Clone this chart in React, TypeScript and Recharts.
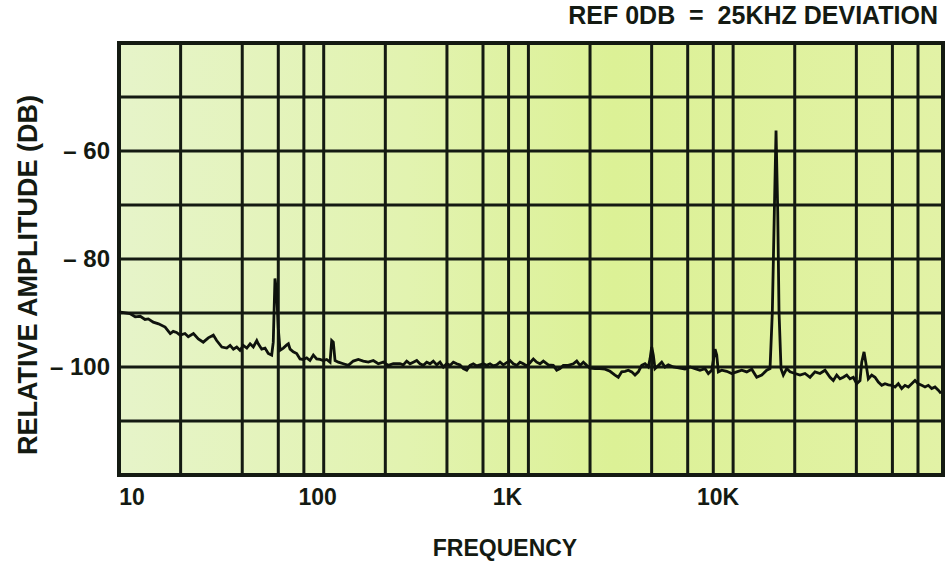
import { LineChart, Line, XAxis, YAxis, ReferenceLine, ReferenceArea, Label } from 'recharts';

const FONT = '"Liberation Sans", Arial, Helvetica, sans-serif';
const INK = '#141a12';

// frequency (Hz) of each trace point
const FREQ_HZ = [
  10, 11.3, 12.0, 12.7, 13.4, 13.9, 14.7, 15.6, 16.8, 17.8, 18.4, 19.1, 19.9, 21.0, 21.8, 23.1,
  24.4, 25.8, 27.3, 28.9, 30.0, 31.8, 33.6, 34.9, 36.2, 37.6, 39.0, 40.5, 42.1, 43.7, 45.3, 47.1,
  47.9, 49.8, 51.7, 53.6, 55.7, 56.7, 57.8, 58.9, 60.0, 61.2, 63.5, 66.0, 67.2, 68.5, 71.0, 73.8,
  76.6, 79.5, 82.6, 85.7, 89.0, 92.4, 95.9, 99.5, 103.4, 107.4, 109.4, 111.4, 113.6, 117.9, 124.7,
  131.9, 139.5, 147.6, 156.1, 165.2, 174.7, 184.8, 195.5, 206.8, 218.8,
  235.9, 244.8, 254.3, 264.0, 274.0, 284.7, 295.4, 306.7, 318.6, 330.6, 343.1, 356.5, 370.0, 384.0,
  398.9, 414.0, 429.7, 446.5, 463.4, 480.9, 499.6, 518.5, 538.1, 559.1, 580.3, 602.2, 625.7, 649.4,
  673.9, 700.2, 726.6, 754.1, 783.4, 813.0, 843.8, 876.7, 910.0, 944.4, 981.1, 1018, 1057, 1098,
  1139, 1183, 1251, 1323, 1375, 1427, 1481, 1566, 1657, 1722, 1787, 1855, 1927, 2000, 2116, 2238,
  2367, 2504, 2649, 2749, 2856, 2964, 3076, 3197, 3317, 3443, 3576, 3712, 3853, 3927, 4003, 4076,
  4155, 4312, 4479, 4649, 4825, 5105,
  5504, 5821, 6159, 6515, 6890, 7289, 7568, 7862, 8005, 8160, 8317, 8468, 8798, 9307, 9845, 10414,
  11016, 11655, 12328, 13041, 13795, 14594, 15148, 15545, 15899, 16205, 16518, 16759, 17140, 17588,
  18273, 18967, 20063, 21222, 22448, 23752,
  25123, 26574, 28119, 29744, 30866, 32069, 33280, 34540, 35891, 37250, 38658, 40166, 41680, 42491,
  43604, 44446, 45765, 47547, 49342, 51205, 53204, 55211, 57307, 59541, 61789, 64120, 66616, 69146,
  71758, 74553, 77367, 80289, 83421, 86571, 89844, 93344, 96871, 100554, 103680,
];

// relative amplitude (dB) at each frequency above
const AMPLITUDE_DB = [
  -89.8, -90.1, -90.7, -90.6, -91.2, -91.1, -91.7, -92.0, -92.6, -93.8, -93.4, -93.6, -94.1, -93.8, -94.4, -93.8,
  -94.8, -95.4, -94.6, -94.1, -95.1, -96.3, -96.5, -96.0, -96.7, -96.3, -96.9, -96.0, -96.5, -95.7, -96.3, -95.1,
  -95.7, -96.7, -96.5, -97.5, -97.8, -95.4, -83.6, -86.1, -92.9, -96.9, -96.5, -95.9, -95.7, -96.7, -97.2, -97.5,
  -98.5, -98.6, -98.3, -98.8, -97.8, -98.5, -98.6, -98.8, -98.6, -99.1, -95.1, -95.4, -98.8, -99.1, -99.4,
  -99.7, -98.9, -98.6, -98.9, -99.1, -98.8, -99.4, -99.1, -99.7, -99.4,
  -99.4, -99.6, -98.9, -99.4, -99.1, -98.8, -99.4, -99.7, -99.1, -99.4, -98.9, -99.6, -99.1, -100.0,
  -99.4, -99.7, -99.1, -99.4, -99.6, -100.3, -100.6, -99.7, -99.4, -99.8, -99.6, -99.4, -99.7, -99.4,
  -99.8, -99.6, -99.1, -99.6, -99.2, -98.8, -99.4, -99.7, -99.1, -99.4, -99.8, -99.2, -98.5, -99.1,
  -99.4, -98.9, -99.6, -99.7, -100.6, -100.3, -99.7, -99.7, -99.4, -98.9, -99.7, -99.1, -99.7, -100.2, -100.3, -100.3,
  -100.4, -100.8, -101.5, -101.9, -100.9, -100.8, -100.6, -100.9, -101.5, -100.9, -99.7, -99.4, -100.0, -98.5, -96.3, -97.8,
  -100.3, -99.7, -99.1, -100.0, -99.6, -100.0,
  -100.2, -100.4, -100.0, -100.3, -100.6, -100.3, -101.2, -100.6, -98.8, -96.7, -97.8, -100.9, -100.6, -100.8, -101.2, -100.9,
  -100.6, -100.9, -100.4, -101.9, -101.5, -100.6, -100.3, -89.8, -71.3, -56.2, -71.3, -89.8, -100.3, -101.5,
  -100.3, -100.9, -101.2, -101.5, -101.2, -101.9,
  -100.9, -101.2, -100.6, -101.9, -102.5, -101.5, -102.2, -101.9, -101.5, -102.2, -101.9, -103.1, -102.5, -99.1,
  -97.2, -99.1, -102.2, -101.5, -101.9, -102.8, -103.4, -103.1, -103.3, -103.4, -103.7, -103.1, -104.0, -103.4,
  -103.7, -103.1, -102.5, -103.1, -103.4, -103.7, -103.4, -104.0, -103.7, -104.3, -104.9,
];

const X_TICKS = [10, 100, 1000, 10000];
const X_TICK_LABELS = ['10', '100', '1K', '10K'];
const Y_TICKS = [-60, -80, -100];

// graph paper rulings
const GRID_FREQS = [
  20, 40, 60, 80, 100, 200, 400, 600, 800, 1000, 2000, 4000, 6000, 8000, 10000, 20000, 40000, 60000, 80000,
];
const GRID_DB = [-50, -60, -70, -80, -90, -100, -110];

const data = FREQ_HZ.map((freq, i) => ({ freq, db: AMPLITUDE_DB[i] }));

// printed labels sit a little off the rulings in the original
const X_TICK_NUDGE = [13, -6, -21, -15];

function FreqTick({ x, y, payload }: any) {
  const i = X_TICKS.indexOf(payload.value);
  return (
    <text x={x + X_TICK_NUDGE[i]} y={y + 30} textAnchor="middle" fontFamily={FONT} fontSize={23} fontWeight={700} fill={INK}>
      {X_TICK_LABELS[i]}
    </text>
  );
}

function DbTick({ x, y, payload }: any) {
  return (
    <text x={x - 9} y={y + 8} textAnchor="end" fontFamily={FONT} fontSize={24} fontWeight={700} fill={INK}>
      {`\u2013 ${Math.abs(payload.value)}`}
    </text>
  );
}

const YTitle = () => (
  <text
    x={28}
    y={275}
    transform="rotate(-90, 28, 275)"
    textAnchor="middle"
    dominantBaseline="central"
    fontFamily={FONT}
    fontSize={27}
    fontWeight={700}
    fill={INK}
  >
    RELATIVE AMPLITUDE (DB)
  </text>
);

const XTitle = () => (
  <text x={505} y={556} textAnchor="middle" fontFamily={FONT} fontSize={23} fontWeight={700} fill={INK}>
    FREQUENCY
  </text>
);

export default function App() {
  return (
    <div style={{ position: 'absolute', left: 0, top: 0, width: 950, height: 565, background: '#fff' }}>
      <div
        style={{
          position: 'absolute',
          right: 12,
          top: 2,
          fontFamily: FONT,
          fontSize: 25,
          lineHeight: '26px',
          fontWeight: 700,
          color: INK,
          whiteSpace: 'pre',
        }}
      >
        {'REF 0DB  =  25KHZ DEVIATION'}
      </div>
      <LineChart width={950} height={565} data={data} margin={{ top: 43, right: 7, bottom: 0, left: 0 }}>
        <defs>
          <linearGradient id="paper" x1="0" y1="0" x2="1" y2="0">
            <stop offset="0%" stopColor="#e6f4c9" />
            <stop offset="35%" stopColor="#e2f3b0" />
            <stop offset="60%" stopColor="#dcf196" />
            <stop offset="100%" stopColor="#e2f2a6" />
          </linearGradient>
        </defs>
        <XAxis
          dataKey="freq"
          type="number"
          scale="log"
          domain={[10, 106000]}
          allowDataOverflow
          ticks={X_TICKS}
          interval={0}
          tick={FreqTick}
          tickLine={false}
          axisLine={false}
          tickSize={0}
          tickMargin={0}
          height={90}
        >
          <Label content={XTitle} />
        </XAxis>
        <YAxis
          type="number"
          domain={[-120, -40]}
          allowDataOverflow
          ticks={Y_TICKS}
          interval={0}
          tick={DbTick}
          tickLine={false}
          axisLine={false}
          tickSize={0}
          tickMargin={0}
          width={119}
        >
          <Label content={YTitle} />
        </YAxis>
        <ReferenceArea
          x1={10}
          x2={106000}
          y1={-120}
          y2={-40}
          fill="url(#paper)"
          fillOpacity={1}
          stroke="none"
          zIndex={-20}
        />
        {GRID_FREQS.map((f) => (
          <ReferenceLine key={`v${f}`} x={f} stroke={INK} strokeWidth={3} zIndex={-10} />
        ))}
        {GRID_DB.map((d) => (
          <ReferenceLine key={`h${d}`} y={d} stroke={INK} strokeWidth={3} zIndex={-10} />
        ))}
        <ReferenceArea
          x1={10}
          x2={106000}
          y1={-120}
          y2={-40}
          fill="none"
          stroke={INK}
          strokeWidth={4}
          zIndex={-5}
        />
        <Line
          dataKey="db"
          type="linear"
          stroke="#0e120d"
          strokeWidth={2.8}
          dot={false}
          activeDot={false}
          isAnimationActive={false}
        />
      </LineChart>
    </div>
  );
}
